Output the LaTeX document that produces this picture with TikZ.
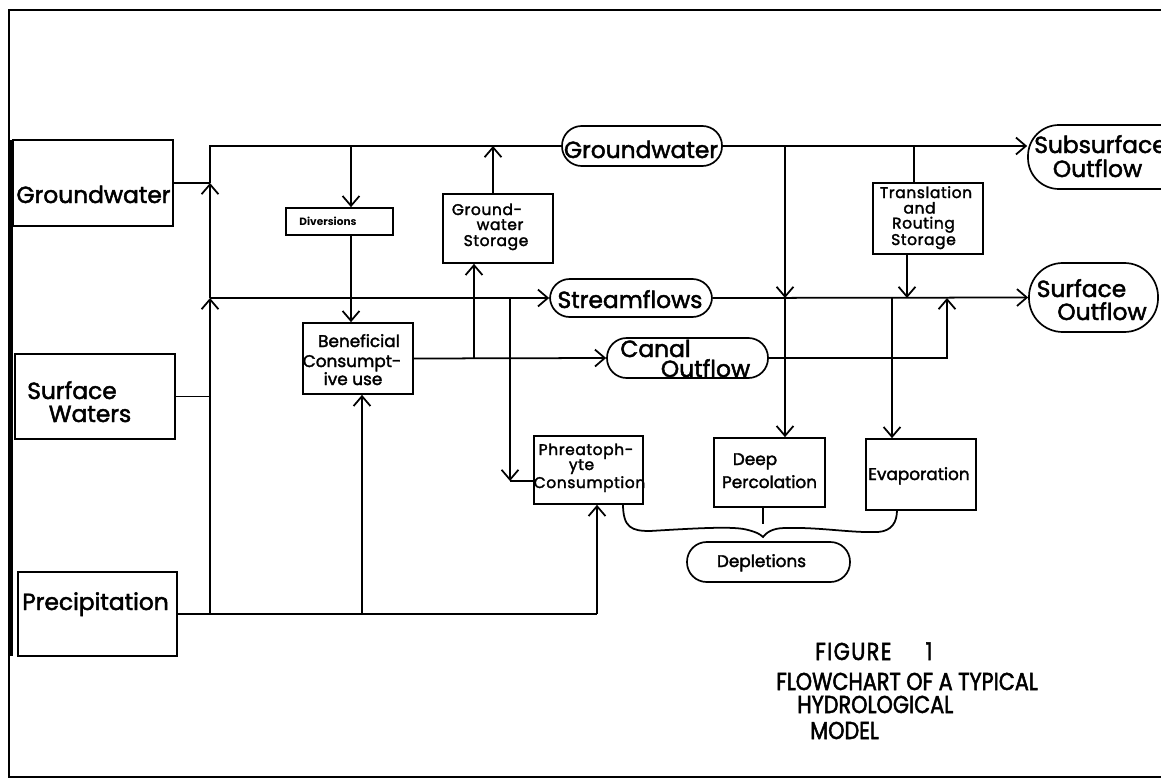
\documentclass[tikz,border=0pt]{standalone}
\usepackage{fontspec}
\setmainfont{Poppins}
\newfontfamily\pfont[FakeBold=2]{Poppins}
\newfontfamily\mfont[FakeBold=2,LetterSpace=4]{Poppins}
\newfontfamily\tfont[FakeStretch=0.85,FakeBold=2]{Poppins}
\usetikzlibrary{arrows.meta,fit}
\newcommand\fsBig{\pfont\fontsize{16.6}{17}\selectfont}
\newcommand\fsMed{\pfont\fontsize{12}{12}\selectfont}
\newcommand\fsTight{\mfont\fontsize{11}{11}\selectfont}
\newcommand\fsSm{\fontsize{7.5}{8}\selectfont\bfseries}
\newcommand\fsTi{\tfont\fontsize{17.4}{18}\selectfont}
\begin{document}
\begin{tikzpicture}[x=0.025cm,y=-0.025cm,
  ln/.style={line width=1.25pt},
  arr/.style={ln,-{Straight Barb[length=7pt,width=12pt]}},
  box/.style={draw,line width=1.2pt,inner sep=0pt},
  oval/.style={box,rounded corners=#1},
  tb/.style={inner sep=0pt,anchor=base},
  tw/.style={inner sep=0pt,anchor=base west}]
\useasboundingbox (0,0) rectangle (1161,782);
\clip (0,0) rectangle (1161,782);
% frame
\draw[ln] (1161,10) -- (9,10) -- (9,777) -- (1161,777);
\draw[line width=3pt] (11,140) -- (11,656);
% boxes
\node[box,fit={(13,140) (173,226)}] (gwb) {};
\node[box,fit={(15,354) (175,439)}] (swb) {};
\node[box,fit={(18,572) (177,656)}] (pb) {};
\node[box,fit={(286,208) (393,235)}] (div) {};
\node[box,fit={(303,323) (413,394)}] (ben) {};
\node[box,fit={(443,194) (553,263)}] (gws) {};
\node[box,fit={(534,436) (643,504)}] (phr) {};
\node[box,fit={(714,438) (825,507)}] (dp) {};
\node[box,fit={(866,439) (976,510)}] (ev) {};
\node[box,fit={(873,183) (983,254)}] (trs) {};
% ovals
\node[oval=14pt,fit={(562,126) (722,166)}] (gwo) {};
\node[oval=14pt,fit={(550,279) (712,317)}] (sfo) {};
\node[oval=14pt,fit={(607,338) (768,378)}] (cno) {};
\node[oval=22pt,fit={(1028,125) (1190,189)}] (subo) {};
\node[oval=24pt,fit={(1029,263) (1158,332)}] (suro) {};
\node[oval=14pt,fit={(687,542) (850,582)}] (dep) {};
% texts
\node[tb] (gwbt) at (93.5,203) {\fsBig Groundwater};
\node[tb] (swbt1) at (72,399) {\fsBig Surface};
\node[tb] (swbt2) at (90,422) {\fsBig Waters};
\node[tb] (pbt) at (95.5,610) {\fsBig Precipitation};
\node[tb] (divt) at (328,225) {\fsSm Diversions};
\node[tb] (bent1) at (359,347) {\fsMed Beneficial};
\node[tb] (bent2) at (352,367) {\fsMed Consumpt-};
\node[tb] (bent3) at (353,385) {\fsMed ive use};
\node[tb] (gwst1) at (487,215) {\fsTight Ground-};
\node[tb] (gwst2) at (500,230) {\fsTight water};
\node[tb] (gwst3) at (496,246) {\fsTight Storage};
\node[tb] (gwot) at (641,158) {\fsBig Groundwater};
\node[tb] (sfot) at (630,308) {\fsBig Streamflows};
\node[tb] (cnot1) at (655.5,357) {\fsBig Canal};
\node[tb] (cnot2) at (705.5,377) {\fsBig Outflow};
\node[tb] (trst1) at (926,198) {\fsTight Translation};
\node[tb] (trst2) at (919.5,213.5) {\fsTight and};
\node[tb] (trst3) at (923.5,228.5) {\fsTight Routing};
\node[tb] (trst4) at (923.5,245) {\fsTight Storage};
\node[tw] (subot1) at (1034,153) {\fsBig Subsurface};
\node[tb] (subot2) at (1097.5,177) {\fsBig Outflow};
\node[tb] (surot1) at (1081.5,297) {\fsBig Surface};
\node[tb] (surot2) at (1102,320) {\fsBig Outflow};
\node[tb] (phrt1) at (586,455) {\fsTight Phreatoph-};
\node[tb] (phrt2) at (581.5,470) {\fsTight yte};
\node[tb] (phrt3) at (589.5,488) {\fsTight Consumption};
\node[tb] (dpt1) at (755,465) {\fsMed Deep};
\node[tb] (dpt2) at (769.5,488) {\fsMed Percolation};
\node[tb] (evt) at (919,480) {\fsMed Evaporation};
\node[tb] (dept) at (761.5,567) {\fsMed Depletions};
% title
\node[tw] (t1) at (815,660) {\fsTi F\kern1ptI\kern1ptG\kern1ptU\kern1ptR\kern1ptE\hspace{1.4em}1};
\node[tw] (t2) at (776,690) {\fsTi FLOWCHART OF A TYPICAL};
\node[tw] (t3) at (797,713) {\fsTi HYDROLOGICAL};
\node[tw] (t4) at (810,739) {\fsTi MODEL};
% junction coordinates
\coordinate (jtl) at (210,146);
\coordinate (js) at (210,298);
\coordinate (jp) at (210,614);
\coordinate (dtop) at (351,146);
\coordinate (pbn) at (362,614);
\coordinate (pph) at (597,614);
\coordinate (bg) at (474,358);
\coordinate (gt) at (493,146);
\coordinate (sp) at (510,298);
\coordinate (spc) at (510,481);
\coordinate (td) at (785,146);
\coordinate (tt) at (914,146);
\coordinate (tbx) at (907,254);
\coordinate (se) at (892,298);
\coordinate (ce) at (947,358);
\coordinate (btip) at (763,537);
\coordinate (btk) at (763,524);
% trunk
\draw[ln] (pb.east) -- (pph);
\draw[arr] (pph) -- (pph |- phr.south);
\draw[arr] (jp) -- (js);
\draw[arr] (js) -- (gwb.east -| jtl);
\draw[ln] (gwb.east -| jtl) -- (jtl) -- (gwo.west);
\draw[ln] (gwb.east) -- (gwb.east -| jtl);
\draw[ln] (swb.east) -- (swb.east -| jtl);
\draw[arr] (gwo.east) -- (gwo.east -| subo.west);
\draw[arr] (js) -- (sfo.west);
\draw[arr] (sfo.east) -- (suro.west);
% diversions and beneficial use
\draw[arr] (dtop) -- (dtop |- div.north);
\draw[arr] (dtop |- div.south) -- (dtop |- ben.north);
\draw[arr] (pbn) -- (pbn |- ben.south);
\draw[arr] (ben.east) -- (cno.west);
\draw[arr] (bg) -- (bg |- gws.south);
\draw[arr] (gt |- gws.north) -- (gt);
% phreatophytes
\draw[arr] (sp) -- (spc);
\draw[ln] (spc) -- (spc -| phr.west);
% deep percolation, translation, evaporation
\draw[arr] (td) -- (td |- sfo);
\draw[arr] (td |- sfo) -- (td |- dp.north);
\draw[ln] (tt) -- (tt |- trs.north);
\draw[arr] (tbx |- trs.south) -- (tbx |- sfo);
\draw[arr] (se) -- (se |- ev.north);
\draw[arr] (cno.east) -- (ce) -- (ce |- sfo);
% brace
\draw[ln] (623,504) .. controls (623,528) and (632,531) .. (650,531)
  .. controls (700,528) and (735,526) .. (748,530)
  .. controls (756,532) and (760,534) .. (btip)
  .. controls (766,533) and (772,528) .. (785,528)
  .. controls (820,527) and (850,533) .. (878,532)
  .. controls (892,531) and (897,522) .. (897,510);
\draw[ln] (btk |- dp.south) -- (btk);
\end{tikzpicture}
\end{document}
